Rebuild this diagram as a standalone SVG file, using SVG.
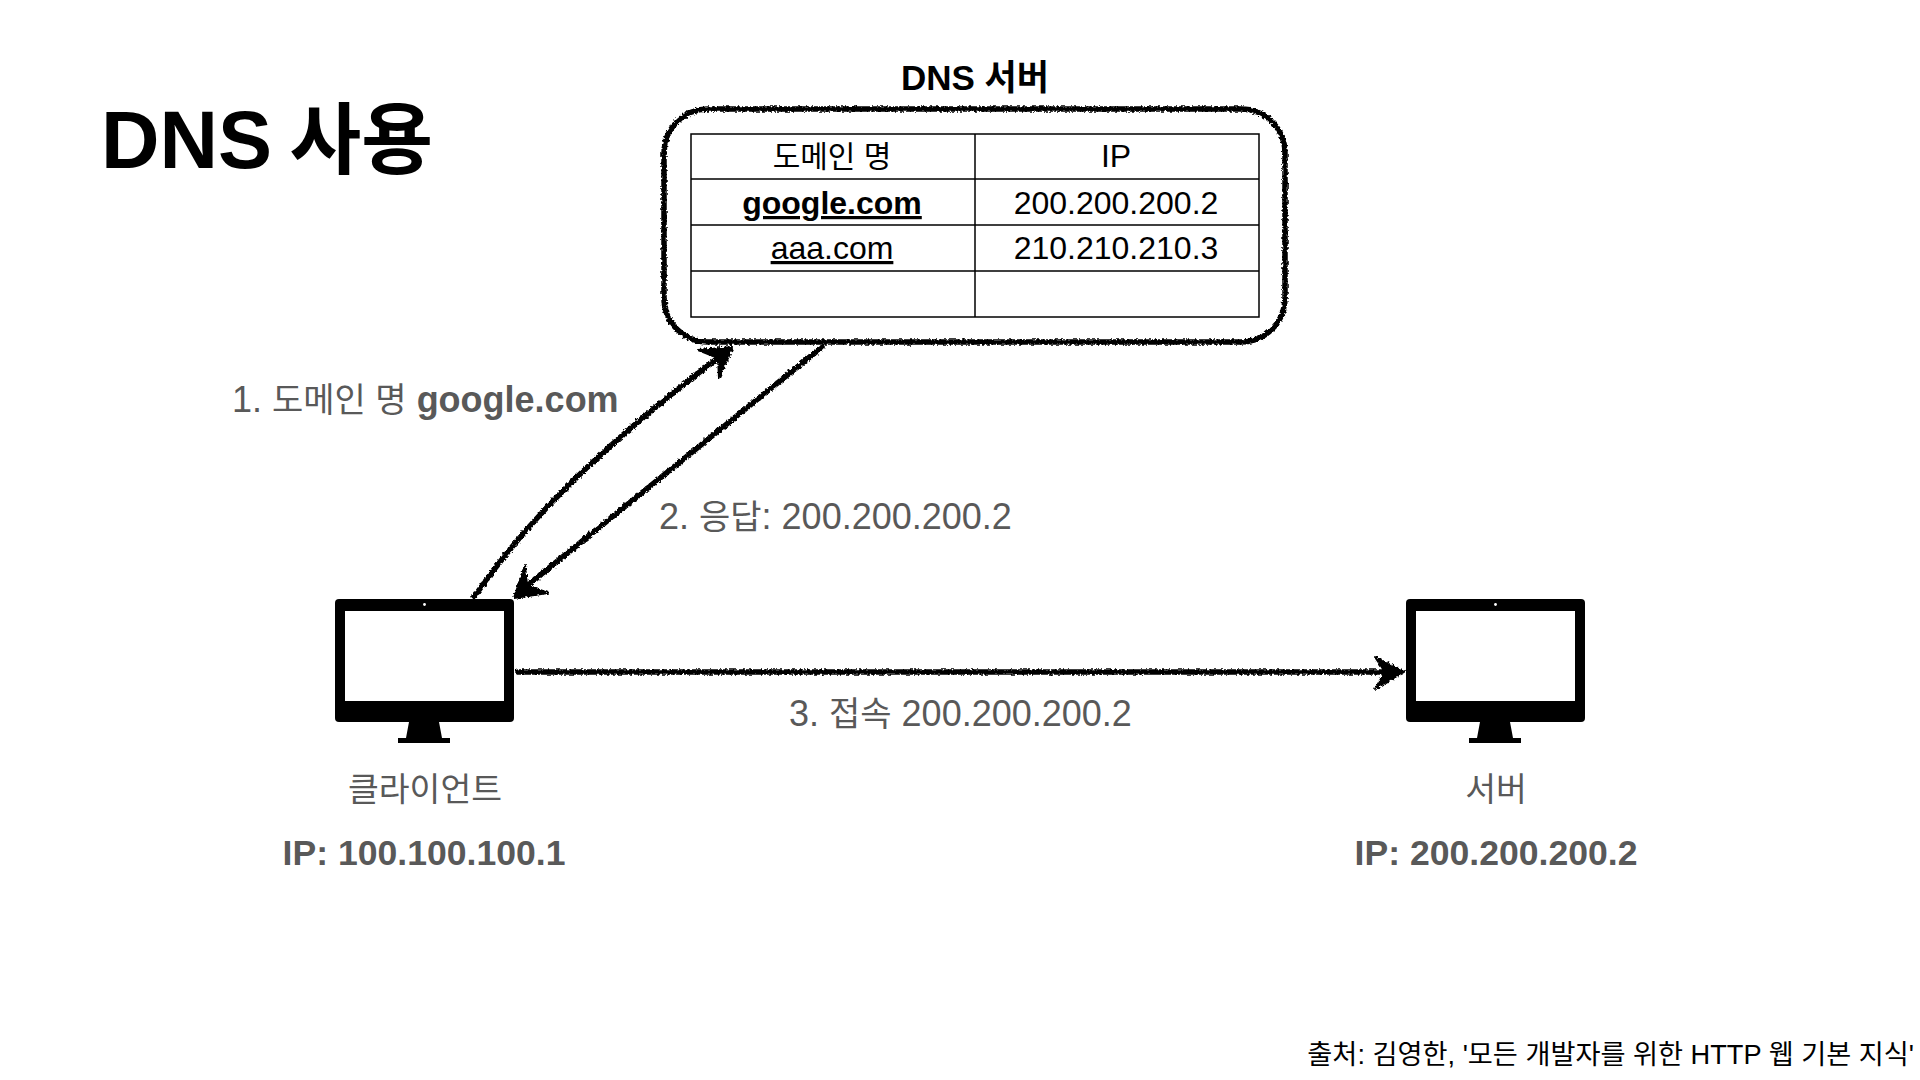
<svg xmlns="http://www.w3.org/2000/svg" width="1920" height="1080" viewBox="0 0 1920 1080">
<style>
text{font-family:"Liberation Sans","Noto Sans CJK KR",sans-serif}
.k{fill:#000}.g{fill:#595959}.b{font-weight:700}.m{text-anchor:middle}
.t{font-size:32px}.h{font-size:30px}.l{font-size:36px}.h2{font-size:34px}.c{font-size:33.500px}.i{font-size:35.600px}
.cell{fill:none;stroke:#000;stroke-width:1.5}
.rough{fill:none;stroke:#000;stroke-width:5.500;stroke-linecap:round}
.head{fill:#000;stroke:#000;stroke-width:2;stroke-linejoin:round}
</style>
<defs>
<filter id="r" x="-5%" y="-5%" width="110%" height="110%" filterUnits="objectBoundingBox"><feTurbulence type="fractalNoise" baseFrequency="0.4" numOctaves="2" seed="4"/><feDisplacementMap in="SourceGraphic" scale="4.500" xChannelSelector="R" yChannelSelector="G"/></filter>
<filter id="r2" x="-10" y="-10" width="1940" height="1100" filterUnits="userSpaceOnUse"><feTurbulence type="fractalNoise" baseFrequency="0.4" numOctaves="2" seed="7"/><feDisplacementMap in="SourceGraphic" scale="4.500" xChannelSelector="R" yChannelSelector="G"/></filter>
<g id="pc">
<rect x="0" y="0" width="179" height="123" rx="4" fill="#000"/>
<rect x="10" y="12" width="159" height="90" fill="#fff"/>
<circle cx="89.500" cy="5.500" r="1.400" fill="#fff"/>
<path d="M74 123H104L107 139H115V144H63V139H71Z" fill="#000"/>
</g>
</defs>
<text id="title" x="101" y="168" class="k b" font-size="81">DNS <tspan font-size="78" dx="-5">사용</tspan></text>
<g id="dns-server">
<text x="975" y="90" class="k b m" font-size="35">DNS 서버</text>
<rect x="664" y="109" width="621" height="233" rx="44" class="rough" filter="url(#r)"/>
<rect x="691" y="134" width="568" height="183" class="cell"/>
<path d="M975 134V317M691 179H1259M691 225H1259M691 271H1259" class="cell"/>
<text x="832" y="167" class="k m h">도메인 명</text>
<text x="1116" y="167" class="k m t">IP</text>
<text x="832" y="214" class="k m b t" text-decoration="underline">google.com</text>
<text x="1116" y="214" class="k m t">200.200.200.2</text>
<text x="832" y="259" class="k m t" text-decoration="underline">aaa.com</text>
<text x="1116" y="259" class="k m t">210.210.210.3</text>
</g>
<g id="client">
<use href="#pc" x="335" y="599"/>
<text x="425" y="801" class="g m c">클라이언트</text>
<text x="424" y="865" class="g m b i">IP: 100.100.100.1</text>
</g>
<g id="server">
<use href="#pc" x="1406" y="599"/>
<text x="1496" y="801" class="g m c">서버</text>
<text x="1496" y="865" class="g m b i">IP: 200.200.200.2</text>
</g>
<g id="connectors" filter="url(#r2)">
<path d="M474 597C510 545 570 470 718 358" class="rough"/>
<path d="M733 347L698 350L718 358L719 378Z" class="head"/>
<path d="M822 347L528 585" class="rough"/>
<path d="M514 598L525 565L527 585L548 593Z" class="head"/>
<path d="M518 672H1384" class="rough"/>
<path d="M1404 672L1375 657L1385 672L1375 689Z" class="head"/>
</g>
<g id="labels">
<text x="232" y="412" class="g l">1. <tspan class="h2">도메인 명</tspan> <tspan class="b">google.com</tspan></text>
<text x="659" y="529" class="g l">2. <tspan class="h2">응답</tspan>: 200.200.200.2</text>
<text x="789" y="726" class="g l">3. <tspan class="h2">접속</tspan> 200.200.200.2</text>
</g>
<text id="source" x="1914" y="1064" class="k" text-anchor="end" font-size="27.200">출처: 김영한, '모든 개발자를 위한 HTTP 웹 기본 지식'</text>
</svg>
